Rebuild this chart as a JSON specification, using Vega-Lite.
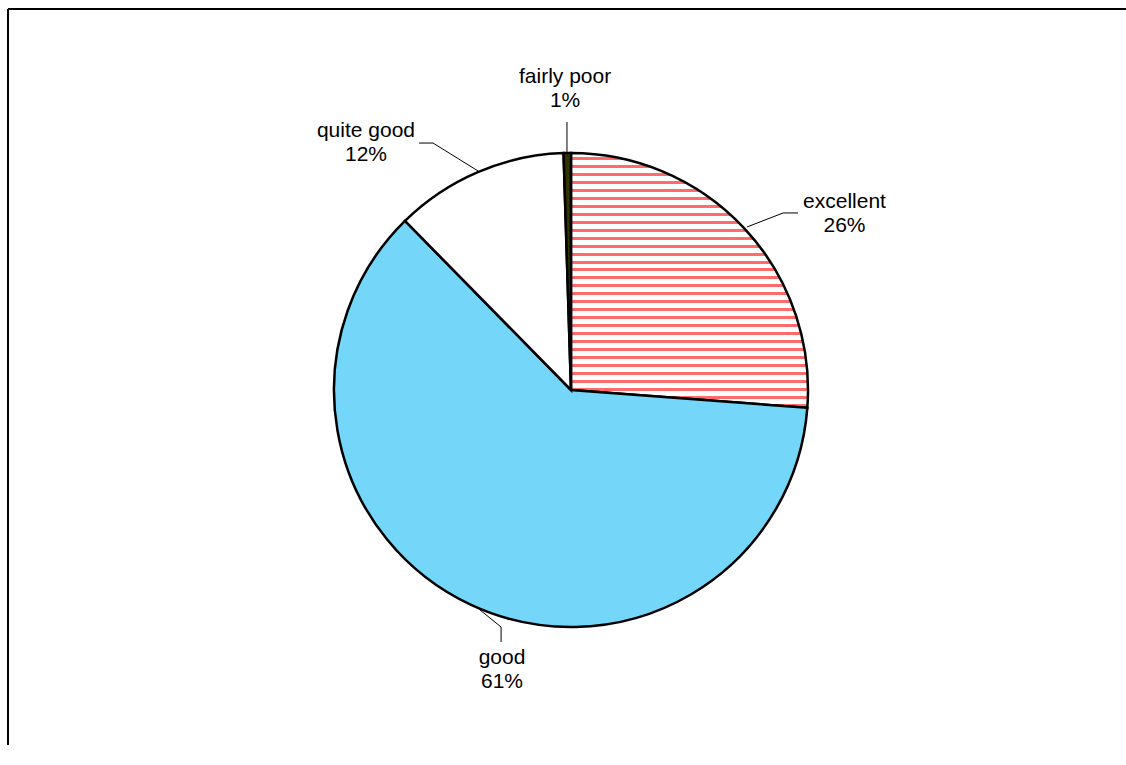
{
  "$schema": "https://vega.github.io/schema/vega-lite/v6.json",
  "width": 1118,
  "height": 736,
  "autosize": {"type": "none"},
  "padding": {"left": 8, "top": 9, "right": 0, "bottom": 0},
  "background": "white",
  "config": {"view": {"stroke": null}},
  "datasets": {
    "slices": [
      {"category": "excellent", "value": 26.2, "idx": 1},
      {"category": "good", "value": 61.45, "idx": 2},
      {"category": "quite good", "value": 11.85, "idx": 3},
      {"category": "fairly poor", "value": 0.5, "idx": 4}
    ],
    "labels": [
      {"category": "fairly poor", "text": "fairly poor\n1%", "u": -0.025, "v": 1.321},
      {"category": "quite good", "text": "quite good\n12%", "u": -0.865, "v": 1.093},
      {"category": "excellent", "text": "excellent\n26%", "u": 1.154, "v": 0.793},
      {"category": "good", "text": "good\n61%", "u": -0.291, "v": -1.131}
    ],
    "leaders": [
      {"category": "fairly poor", "u": -0.017, "v": 1.004, "u2": -0.017, "v2": 1.131},
      {"category": "quite good", "u": -0.392, "v": 0.924, "u2": -0.582, "v2": 1.042},
      {"category": "quite good", "u": -0.582, "v": 1.042, "u2": -0.641, "v2": 1.042},
      {"category": "excellent", "u": 0.743, "v": 0.688, "u2": 0.895, "v2": 0.747},
      {"category": "excellent", "u": 0.895, "v": 0.747, "u2": 0.958, "v2": 0.747},
      {"category": "good", "u": -0.384, "v": -0.928, "u2": -0.295, "v2": -1.0},
      {"category": "good", "u": -0.295, "v": -1.0, "u2": -0.295, "v2": -1.063}
    ],
    "frame": [
      {"side": "top", "u": -2.3755, "v": 1.6076, "u2": 2.3418, "v2": 1.6076},
      {"side": "left", "u": -2.3755, "v": 1.6076, "u2": -2.3755, "v2": -1.4979}
    ]
  },
  "layer": [
    {
      "data": {"name": "frame"},
      "mark": {"type": "rule", "color": "black", "strokeWidth": 2},
      "encoding": {
        "x": {"field": "u", "type": "quantitative", "scale": {"domain": [-2.3755, 2.3418], "nice": false, "zero": false}, "axis": null},
        "y": {"field": "v", "type": "quantitative", "scale": {"domain": [-1.4979, 1.6076], "nice": false, "zero": false}, "axis": null},
        "x2": {"field": "u2"},
        "y2": {"field": "v2"}
      }
    },
    {
      "data": {"name": "slices"},
      "mark": {"type": "arc", "outerRadius": 237, "stroke": "black", "strokeWidth": 2.5, "strokeJoin": "miter"},
      "encoding": {
        "x": {"datum": 0, "type": "quantitative"},
        "y": {"datum": 0, "type": "quantitative"},
        "theta": {"field": "value", "type": "quantitative", "stack": true},
        "order": {"field": "idx", "type": "quantitative"},
        "fill": {
          "condition": [
            {"test": "datum.category === 'excellent'", "value": {
              "gradient": "linear", "x1": 0, "y1": 0, "x2": 0, "y2": 1,
              "stops": [
                {"offset": 0.0156, "color": "white"}, {"offset": 0.0156, "color": "#ff6a6a"}, {"offset": 0.0273, "color": "#ff6a6a"}, {"offset": 0.0273, "color": "white"},
                {"offset": 0.0469, "color": "white"}, {"offset": 0.0469, "color": "#ff6a6a"}, {"offset": 0.0586, "color": "#ff6a6a"}, {"offset": 0.0586, "color": "white"},
                {"offset": 0.0781, "color": "white"}, {"offset": 0.0781, "color": "#ff6a6a"}, {"offset": 0.0898, "color": "#ff6a6a"}, {"offset": 0.0898, "color": "white"},
                {"offset": 0.1094, "color": "white"}, {"offset": 0.1094, "color": "#ff6a6a"}, {"offset": 0.1211, "color": "#ff6a6a"}, {"offset": 0.1211, "color": "white"},
                {"offset": 0.1406, "color": "white"}, {"offset": 0.1406, "color": "#ff6a6a"}, {"offset": 0.1523, "color": "#ff6a6a"}, {"offset": 0.1523, "color": "white"},
                {"offset": 0.1719, "color": "white"}, {"offset": 0.1719, "color": "#ff6a6a"}, {"offset": 0.1836, "color": "#ff6a6a"}, {"offset": 0.1836, "color": "white"},
                {"offset": 0.2031, "color": "white"}, {"offset": 0.2031, "color": "#ff6a6a"}, {"offset": 0.2148, "color": "#ff6a6a"}, {"offset": 0.2148, "color": "white"},
                {"offset": 0.2344, "color": "white"}, {"offset": 0.2344, "color": "#ff6a6a"}, {"offset": 0.2461, "color": "#ff6a6a"}, {"offset": 0.2461, "color": "white"},
                {"offset": 0.2656, "color": "white"}, {"offset": 0.2656, "color": "#ff6a6a"}, {"offset": 0.2773, "color": "#ff6a6a"}, {"offset": 0.2773, "color": "white"},
                {"offset": 0.2969, "color": "white"}, {"offset": 0.2969, "color": "#ff6a6a"}, {"offset": 0.3086, "color": "#ff6a6a"}, {"offset": 0.3086, "color": "white"},
                {"offset": 0.3281, "color": "white"}, {"offset": 0.3281, "color": "#ff6a6a"}, {"offset": 0.3398, "color": "#ff6a6a"}, {"offset": 0.3398, "color": "white"},
                {"offset": 0.3594, "color": "white"}, {"offset": 0.3594, "color": "#ff6a6a"}, {"offset": 0.3711, "color": "#ff6a6a"}, {"offset": 0.3711, "color": "white"},
                {"offset": 0.3906, "color": "white"}, {"offset": 0.3906, "color": "#ff6a6a"}, {"offset": 0.4023, "color": "#ff6a6a"}, {"offset": 0.4023, "color": "white"},
                {"offset": 0.4219, "color": "white"}, {"offset": 0.4219, "color": "#ff6a6a"}, {"offset": 0.4336, "color": "#ff6a6a"}, {"offset": 0.4336, "color": "white"},
                {"offset": 0.4531, "color": "white"}, {"offset": 0.4531, "color": "#ff6a6a"}, {"offset": 0.4648, "color": "#ff6a6a"}, {"offset": 0.4648, "color": "white"},
                {"offset": 0.4844, "color": "white"}, {"offset": 0.4844, "color": "#ff6a6a"}, {"offset": 0.4961, "color": "#ff6a6a"}, {"offset": 0.4961, "color": "white"},
                {"offset": 0.5156, "color": "white"}, {"offset": 0.5156, "color": "#ff6a6a"}, {"offset": 0.5273, "color": "#ff6a6a"}, {"offset": 0.5273, "color": "white"},
                {"offset": 0.5469, "color": "white"}, {"offset": 0.5469, "color": "#ff6a6a"}, {"offset": 0.5586, "color": "#ff6a6a"}, {"offset": 0.5586, "color": "white"},
                {"offset": 0.5781, "color": "white"}, {"offset": 0.5781, "color": "#ff6a6a"}, {"offset": 0.5898, "color": "#ff6a6a"}, {"offset": 0.5898, "color": "white"},
                {"offset": 0.6094, "color": "white"}, {"offset": 0.6094, "color": "#ff6a6a"}, {"offset": 0.6211, "color": "#ff6a6a"}, {"offset": 0.6211, "color": "white"},
                {"offset": 0.6406, "color": "white"}, {"offset": 0.6406, "color": "#ff6a6a"}, {"offset": 0.6523, "color": "#ff6a6a"}, {"offset": 0.6523, "color": "white"},
                {"offset": 0.6719, "color": "white"}, {"offset": 0.6719, "color": "#ff6a6a"}, {"offset": 0.6836, "color": "#ff6a6a"}, {"offset": 0.6836, "color": "white"},
                {"offset": 0.7031, "color": "white"}, {"offset": 0.7031, "color": "#ff6a6a"}, {"offset": 0.7148, "color": "#ff6a6a"}, {"offset": 0.7148, "color": "white"},
                {"offset": 0.7344, "color": "white"}, {"offset": 0.7344, "color": "#ff6a6a"}, {"offset": 0.7461, "color": "#ff6a6a"}, {"offset": 0.7461, "color": "white"},
                {"offset": 0.7656, "color": "white"}, {"offset": 0.7656, "color": "#ff6a6a"}, {"offset": 0.7773, "color": "#ff6a6a"}, {"offset": 0.7773, "color": "white"},
                {"offset": 0.7969, "color": "white"}, {"offset": 0.7969, "color": "#ff6a6a"}, {"offset": 0.8086, "color": "#ff6a6a"}, {"offset": 0.8086, "color": "white"},
                {"offset": 0.8281, "color": "white"}, {"offset": 0.8281, "color": "#ff6a6a"}, {"offset": 0.8398, "color": "#ff6a6a"}, {"offset": 0.8398, "color": "white"},
                {"offset": 0.8594, "color": "white"}, {"offset": 0.8594, "color": "#ff6a6a"}, {"offset": 0.8711, "color": "#ff6a6a"}, {"offset": 0.8711, "color": "white"},
                {"offset": 0.8906, "color": "white"}, {"offset": 0.8906, "color": "#ff6a6a"}, {"offset": 0.9023, "color": "#ff6a6a"}, {"offset": 0.9023, "color": "white"},
                {"offset": 0.9219, "color": "white"}, {"offset": 0.9219, "color": "#ff6a6a"}, {"offset": 0.9336, "color": "#ff6a6a"}, {"offset": 0.9336, "color": "white"},
                {"offset": 0.9531, "color": "white"}, {"offset": 0.9531, "color": "#ff6a6a"}, {"offset": 0.9648, "color": "#ff6a6a"}, {"offset": 0.9648, "color": "white"},
                {"offset": 0.9844, "color": "white"}, {"offset": 0.9844, "color": "#ff6a6a"}, {"offset": 0.9961, "color": "#ff6a6a"}, {"offset": 0.9961, "color": "white"}
              ]
            }},
            {"test": "datum.category === 'good'", "value": "#74d6f8"},
            {"test": "datum.category === 'fairly poor'", "value": "#333300"}
          ],
          "value": "white"
        }
      }
    },
    {
      "data": {"name": "leaders"},
      "mark": {"type": "rule", "color": "black", "strokeWidth": 1},
      "encoding": {
        "x": {"field": "u", "type": "quantitative"},
        "y": {"field": "v", "type": "quantitative"},
        "x2": {"field": "u2"},
        "y2": {"field": "v2"}
      }
    },
    {
      "data": {"name": "labels"},
      "mark": {"type": "text", "font": "Liberation Sans", "fontSize": 21, "lineBreak": "\n", "lineHeight": 24, "align": "center", "baseline": "middle", "color": "black"},
      "encoding": {
        "x": {"field": "u", "type": "quantitative"},
        "y": {"field": "v", "type": "quantitative"},
        "text": {"field": "text"}
      }
    }
  ]
}
